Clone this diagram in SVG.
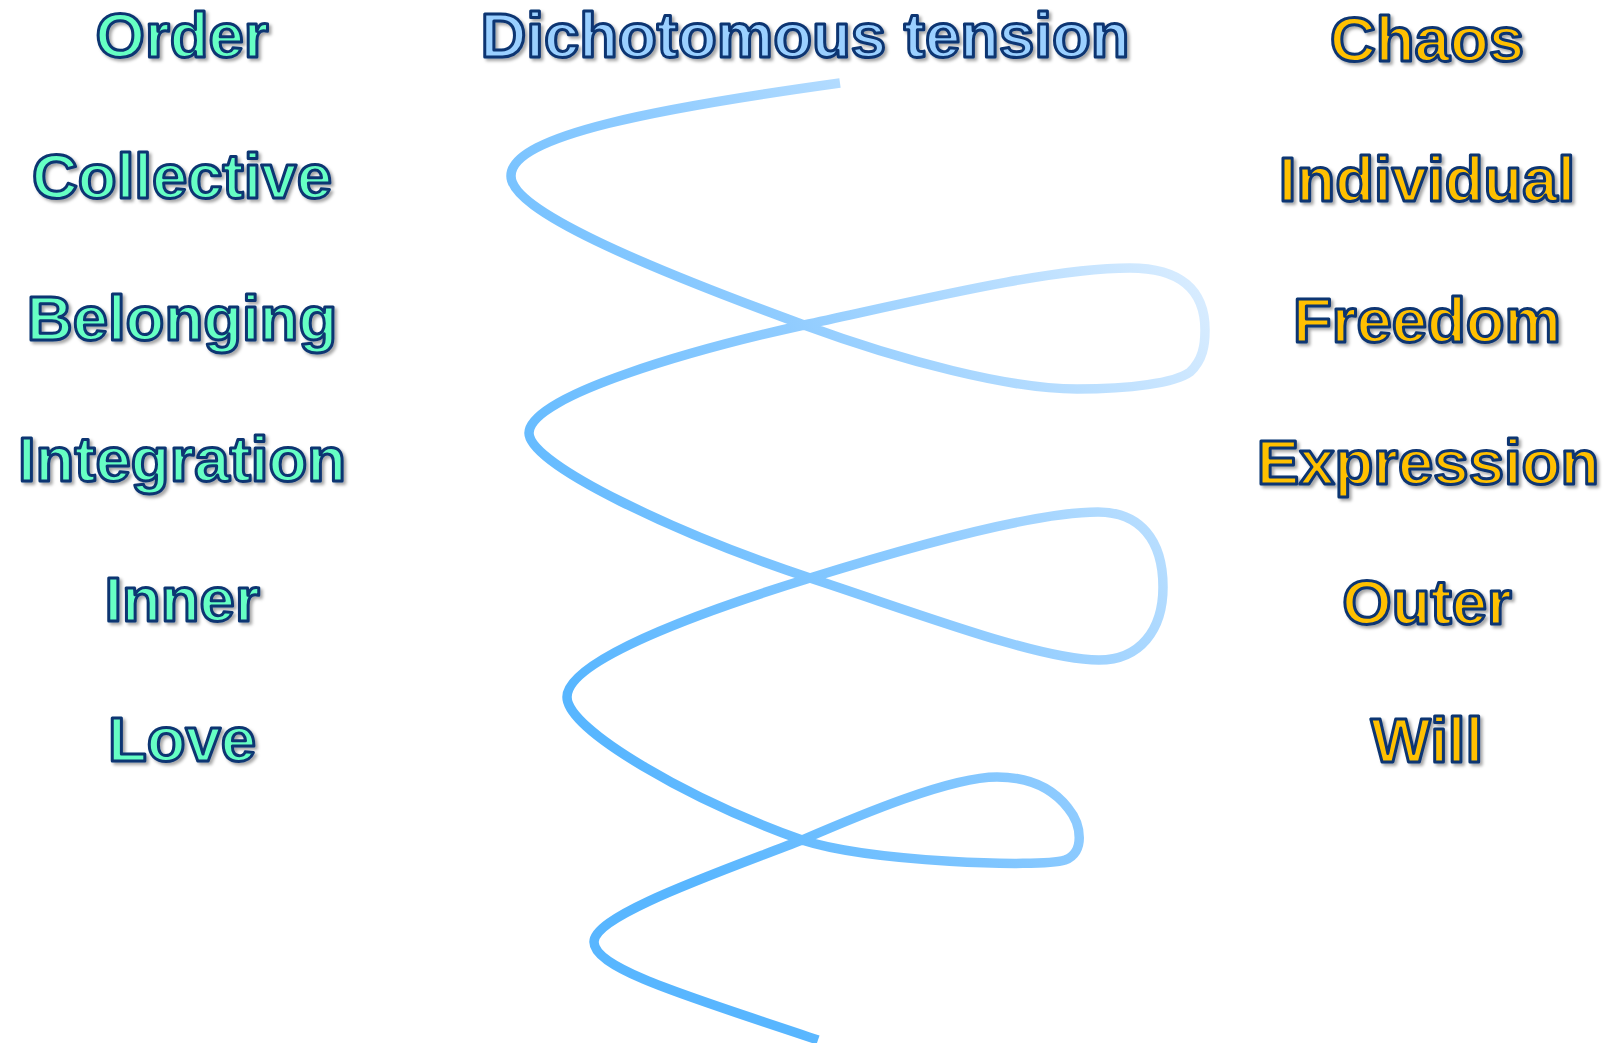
<svg xmlns="http://www.w3.org/2000/svg" width="1610" height="1043" viewBox="0 0 1610 1043">
  <defs>
    <filter id="shadow" x="-10%" y="-30%" width="120%" height="160%">
      <feDropShadow dx="2.5" dy="2.5" stdDeviation="1.6" flood-color="#000000" flood-opacity="0.35"/>
    </filter>
    <linearGradient id="ribbon" gradientUnits="userSpaceOnUse" x1="1210" y1="300" x2="580" y2="700">
      <stop offset="0" stop-color="#d8ecff"/>
      <stop offset="0.5" stop-color="#90ccff"/>
      <stop offset="1" stop-color="#58b6ff"/>
    </linearGradient>
    <style>
      .lbl { font-family: "Liberation Sans", Arial, sans-serif; font-weight: bold; font-size: 63.5px;
             text-anchor: middle; stroke: #0b3572; stroke-width: 3; stroke-linejoin: round; filter: url(#shadow); }
      .order { fill: #66ffc4; }
      .chaos { fill: #ffc000; }
      .title { fill: #9bd0ff; }
      .spiral { fill: none; stroke: url(#ribbon); stroke-width: 9.5; stroke-linecap: butt; stroke-linejoin: round; }
    </style>
  </defs>

  <rect width="1610" height="1043" fill="#ffffff"/>

  <!-- twisting line between the two poles -->
  <g id="connectors">
    <path class="spiral" d="M840,83
      C660,108 511,135 511,176
      C511,210 640,265 804,325
      C902,361 1010,389 1077,389
      C1130,389 1175,383 1190,372
      C1203,360 1205,345 1205,330
      C1205,290 1180,268 1130,268
      C1050,268 920,300 804,325
      C700,348 529,395 529,433
      C529,465 680,535 810,578
      C920,614 1040,660 1099,660
      C1140,660 1163,630 1163,587
      C1163,540 1140,512 1098,512
      C1030,512 900,550 810,578
      C700,612 567,660 567,697
      C567,730 690,800 802,840
      C870,862 1040,868 1065,860
      C1085,853 1082,825 1068,808
      C1050,785 1025,777 997,777
      C950,777 860,815 802,840
      C720,872 594,915 594,942
      C594,970 700,1000 818,1040"/>
  </g>

  <!-- heading -->
  <g id="title"><text class="lbl title" x="805" y="57">Dichotomous tension</text></g>

  <!-- order side -->
  <g id="order"><text class="lbl order" x="182" y="57">Order</text></g>
  <g id="collective"><text class="lbl order" x="182" y="198">Collective</text></g>
  <g id="belonging"><text class="lbl order" x="182" y="340">Belonging</text></g>
  <g id="integration"><text class="lbl order" x="182" y="481">Integration</text></g>
  <g id="inner"><text class="lbl order" x="182" y="621">Inner</text></g>
  <g id="love"><text class="lbl order" x="182" y="761">Love</text></g>

  <!-- chaos side -->
  <g id="chaos"><text class="lbl chaos" x="1427" y="61">Chaos</text></g>
  <g id="individual"><text class="lbl chaos" x="1427" y="201">Individual</text></g>
  <g id="freedom"><text class="lbl chaos" x="1427" y="342">Freedom</text></g>
  <g id="expression"><text class="lbl chaos" x="1428" y="484">Expression</text></g>
  <g id="outer"><text class="lbl chaos" x="1427" y="624">Outer</text></g>
  <g id="will"><text class="lbl chaos" x="1427" y="762">Will</text></g>
</svg>
